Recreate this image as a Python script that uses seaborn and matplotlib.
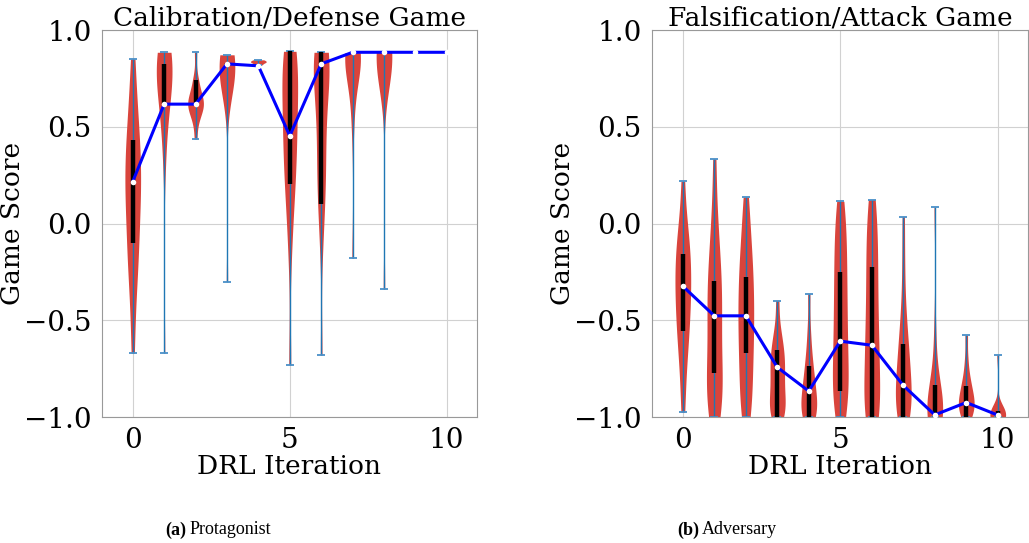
import numpy as np
import pandas as pd
import matplotlib
matplotlib.use("Agg")
import matplotlib.pyplot as plt
import seaborn as sns

# ---- data ----
iters = list(range(11))

# protagonist (calibration / defense game) score samples per iteration
prot_samples = [
    [-0.67, -0.45, -0.3, -0.22, -0.15, -0.08, 0.0, 0.06, 0.12, 0.18, 0.22, 0.27, 0.32, 0.38, 0.44, 0.5, 0.58, 0.7, 0.85],
    [-0.67, 0.3, 0.45, 0.55, 0.6, 0.64, 0.68, 0.72, 0.75, 0.78, 0.8, 0.82, 0.84, 0.86, 0.87, 0.88, 0.885, 0.885],
    [0.436, 0.52, 0.56, 0.58, 0.6, 0.61, 0.62, 0.63, 0.64, 0.66, 0.69, 0.72, 0.76, 0.885],
    [-0.30, 0.66, 0.7, 0.74, 0.77, 0.79, 0.81, 0.82, 0.83, 0.84, 0.85, 0.86, 0.865, 0.872],
    [0.82, 0.83, 0.835, 0.84, 0.846],
    [-0.73, -0.15, 0.05, 0.15, 0.22, 0.3, 0.36, 0.42, 0.48, 0.54, 0.6, 0.66, 0.72, 0.78, 0.83, 0.87, 0.89, 0.89],
    [-0.68, -0.1, 0.08, 0.15, 0.22, 0.3, 0.38, 0.46, 0.54, 0.62, 0.7, 0.76, 0.8, 0.83, 0.85, 0.87, 0.88, 0.885, 0.885],
    [-0.18, 0.5, 0.65, 0.74, 0.8, 0.84, 0.86, 0.87, 0.88, 0.883, 0.883, 0.883, 0.883, 0.883],
    [-0.34, 0.72, 0.8, 0.85, 0.87, 0.88, 0.885, 0.885, 0.885, 0.885, 0.885, 0.885],
]
prot_median = [0.217, 0.617, 0.617, 0.825, 0.815, 0.453, 0.825, 0.885, 0.885, 0.885, 0.885]
prot_q1 = [-0.10, 0.617, 0.617, 0.825, 0.815, 0.205, 0.103, 0.885, 0.885]
prot_q3 = [0.43, 0.825, 0.74, 0.83, 0.82, 0.89, 0.885, 0.885, 0.885]

# adversary (falsification / attack game)
adv_samples = [
    [-0.975, -0.8, -0.68, -0.6, -0.54, -0.48, -0.42, -0.37, -0.32, -0.27, -0.22, -0.17, -0.12, -0.06, 0.02, 0.219],
    [-1.0, -0.97, -0.92, -0.87, -0.82, -0.77, -0.7, -0.62, -0.55, -0.48, -0.42, -0.36, -0.3, -0.24, -0.16, -0.06, 0.08, 0.334],
    [-1.0, -0.95, -0.88, -0.8, -0.72, -0.67, -0.6, -0.54, -0.48, -0.43, -0.37, -0.3, -0.25, -0.18, -0.1, 0.0, 0.136],
    [-1.0, -0.99, -0.97, -0.94, -0.91, -0.87, -0.83, -0.79, -0.75, -0.72, -0.69, -0.65, -0.61, -0.55, -0.398],
    [-1.0, -1.0, -0.99, -0.97, -0.95, -0.92, -0.89, -0.87, -0.84, -0.8, -0.76, -0.72, -0.65, -0.55, -0.363],
    [-1.0, -0.95, -0.9, -0.86, -0.8, -0.74, -0.68, -0.61, -0.55, -0.48, -0.41, -0.34, -0.27, -0.2, -0.12, -0.05, 0.03, 0.115],
    [-1.0, -1.0, -0.98, -0.93, -0.86, -0.79, -0.72, -0.66, -0.6, -0.53, -0.45, -0.37, -0.29, -0.21, -0.13, -0.05, 0.04, 0.124],
    [-1.0, -0.99, -0.97, -0.94, -0.91, -0.88, -0.84, -0.8, -0.75, -0.7, -0.65, -0.6, -0.52, -0.4, -0.2, 0.036],
    [-1.0, -1.0, -1.0, -0.99, -0.99, -0.98, -0.97, -0.95, -0.92, -0.88, -0.83, -0.75, -0.55, 0.084],
    [-1.0, -0.99, -0.97, -0.95, -0.93, -0.92, -0.9, -0.88, -0.85, -0.82, -0.78, -0.7, -0.577],
    [-1.0, -1.0, -1.0, -1.0, -0.99, -0.99, -0.98, -0.97, -0.95, -0.679],
]
adv_median = [-0.324, -0.477, -0.477, -0.743, -0.866, -0.608, -0.629, -0.837, -0.989, -0.925, -0.99]
adv_q1 = [-0.557, -0.772, -0.667, -1.0, -1.0, -0.868, -1.0, -1.0, -1.0, -1.0, -1.0]
adv_q3 = [-0.157, -0.295, -0.274, -0.653, -0.734, -0.252, -0.226, -0.625, -0.832, -0.84, -0.97]

titles = ["Calibration/Defense Game", "Falsification/Attack Game"]
captions = [("(a)", "Protagonist"), ("(b)", "Adversary")]

sns.set_style("whitegrid")
plt.rcParams["font.family"] = ["DejaVu Serif"]
plt.rcParams["axes.edgecolor"] = "0.6"
plt.rcParams["grid.color"] = "0.82"
plt.rcParams["text.color"] = "black"
plt.rcParams["axes.labelcolor"] = "black"
plt.rcParams["xtick.color"] = "black"
plt.rcParams["ytick.color"] = "black"

fig = plt.figure(figsize=(10.29, 5.43), dpi=100)
ax_l = fig.add_axes([0.0991, 0.232, 0.3644, 0.7127])
ax_r = fig.add_axes([0.6336, 0.232, 0.3654, 0.7127])


def draw_panel(ax, samples, med, q1, q3, title):
    pos = list(range(len(samples)))
    df = pd.DataFrame({
        "iter": [i for i, s in zip(pos, samples) for _ in s],
        "score": [v for s in samples for v in s],
    })
    sns.violinplot(data=df, x="iter", y="score", native_scale=True, cut=0,
                   inner=None, width=0.5, density_norm="width", color="#d9443c",
                   saturation=1, linewidth=0, bw_adjust=0.75, ax=ax)
    mins = [min(s) for s in samples]
    maxs = [max(s) for s in samples]
    # extrema bars + caps (caps sit under the spine so the -1 ones stay hidden)
    ax.vlines(pos, mins, maxs, color="#1f77b4", lw=1.0, zorder=2.2)
    ax.hlines(mins, np.array(pos) - 0.125, np.array(pos) + 0.125, color="#4a90c8", lw=1.3, zorder=2.2)
    ax.hlines(maxs, np.array(pos) - 0.125, np.array(pos) + 0.125, color="#4a90c8", lw=1.3, zorder=2.2)
    ax.vlines(pos, q1, q3, color="black", lw=3.2, zorder=4)
    sns.lineplot(x=iters, y=med, color="blue", lw=2.2, ax=ax, zorder=5)
    ax.scatter(iters, med, s=16, color="white", zorder=6, linewidths=0)

    ax.set_xlim(-0.98, 10.96)
    ax.set_ylim(-1.0, 1.0)
    ax.set_xticks([0, 5, 10])
    ax.set_yticks([-1.0, -0.5, 0.0, 0.5, 1.0])
    ax.tick_params(labelsize=20, pad=4)
    ax.set_xlabel("DRL Iteration", fontsize=19, labelpad=0)
    ax.set_ylabel("Game Score", fontsize=19)
    ax.yaxis.set_label_coords(-0.205, 0.5)
    ax.set_title(title, fontsize=19, pad=3)


draw_panel(ax_l, prot_samples, prot_median, prot_q1, prot_q3, titles[0])
draw_panel(ax_r, adv_samples, adv_median, adv_q1, adv_q3, titles[1])

for (tag, word), x0 in zip(captions, [165, 677]):
    fig.text(x0 / 1029, 1 - 530 / 543, tag, fontsize=13, weight="bold",
             family="Liberation Serif", va="center")
    fig.text((x0 + 25) / 1029, 1 - 530 / 543, word, fontsize=13,
             family="Liberation Serif", va="center")

fig.savefig("out.png", dpi=100)
